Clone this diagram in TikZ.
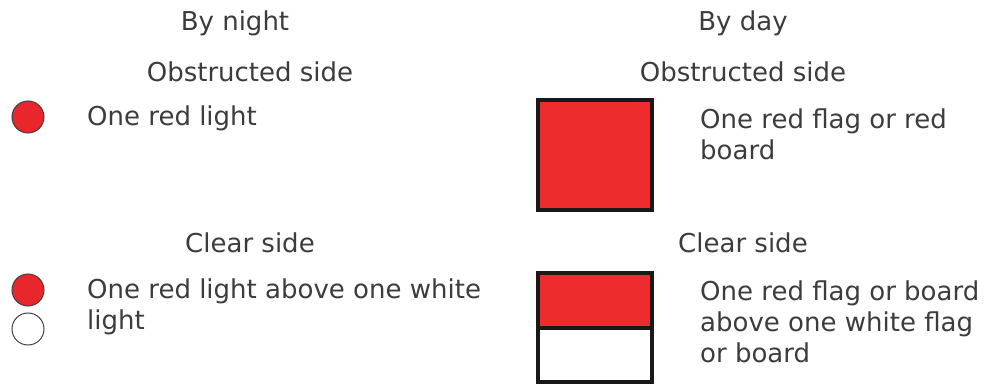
\documentclass[tikz,border=0pt]{standalone}
\usepackage{fontspec}
\setmainfont{DejaVu Sans}
\usetikzlibrary{positioning}
\definecolor{lampred}{HTML}{E8262B}
\definecolor{flagred}{HTML}{EE2B2D}
\definecolor{txtgray}{HTML}{3C3C3C}

\begin{document}
\begin{tikzpicture}[
  x=1pt,y=-1pt,
  font=\fontsize{26}{31}\selectfont,
  txt/.style={text=txtgray,inner sep=0pt},
  head/.style={txt,anchor=center},
  label/.style={txt,anchor=west,align=left},
  lamp/.style={circle,draw=black!75,line width=1pt,minimum size=32pt,inner sep=0pt},
  flag/.style={draw=black!90,line width=4pt},
]
\useasboundingbox (0,0) rectangle (986,385);

% column headings
\node[head] (night) at (235,23) {By night};
\node[head] (day) at (743,23) {By day};
\node[head] (nobs) at (250,72) {Obstructed side};
\node[head] (dobs) at (743,72) {Obstructed side};
\node[head] (nclr) at (250,243) {Clear side};
\node[head] (dclr) at (743,243) {Clear side};

% by night
\node[lamp,fill=lampred] (red1) at (28,117) {};
\node[label] (red1txt) at (87,118) {One red light};
\node[lamp,fill=lampred] (red2) at (28,290) {};
\node[lamp,fill=white] (white2) at (28,329) {};
\node[label] (red2txt) at (87,307) {One red light above one white\\light};

% by day
\fill[flagred] (538,100) rectangle (652,210);
\draw[flag] (538,100) rectangle (652,210);
\node[label] (flag1txt) at (700,134) {One red flag or red\\board};
\fill[flagred] (538,273) rectangle (652,328);
\draw[flag] (538,273) rectangle (652,382) (538,328) -- (652,328);
\node[label] (flag2txt) at (700,322) {One red flag or board\\above one white flag\\or board};
\end{tikzpicture}
\end{document}
